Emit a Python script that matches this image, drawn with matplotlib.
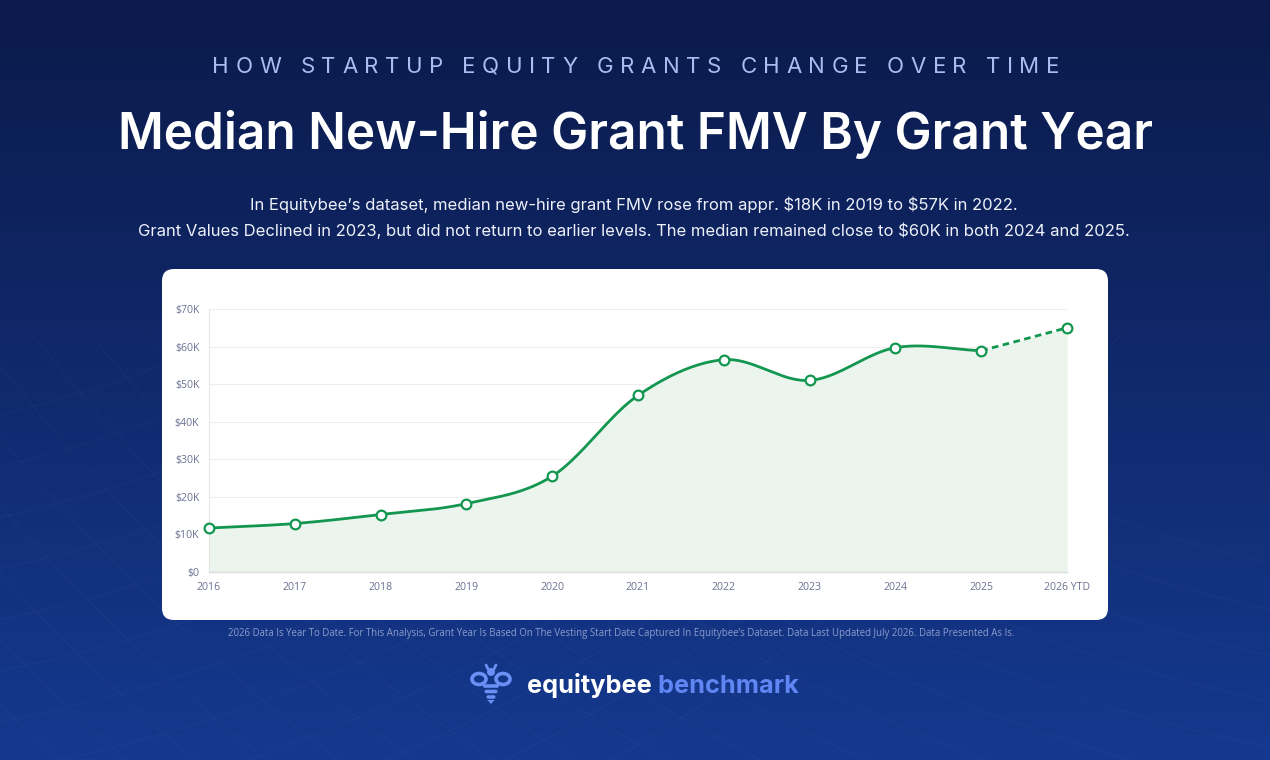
import numpy as np
import matplotlib
matplotlib.use('Agg')
import matplotlib.pyplot as plt
from matplotlib.patches import FancyBboxPatch, Ellipse, Polygon, Circle
from matplotlib.font_manager import FontProperties
from matplotlib.colors import to_rgb

# data (median new-hire grant FMV, $K)
years = ['2016', '2017', '2018', '2019', '2020', '2021', '2022', '2023', '2024', '2025', '2026 YTD']
median_fmv_k = [11.7, 12.9, 15.3, 18.2, 25.5, 47.0, 56.5, 51.0, 59.7, 58.9, 65.0]
n_solid = 10  # last point (2026 YTD) is drawn dashed
y_ticks = [0, 10, 20, 30, 40, 50, 60, 70]

header = 'HOW STARTUP EQUITY GRANTS CHANGE OVER TIME'
title = 'Median New-Hire Grant FMV By Grant Year'
sub1 = 'In Equitybee\u2019s dataset, median new-hire grant FMV rose from appr. $18K in 2019 to $57K in 2022.'
sub2 = ('Grant Values Declined in 2023, but did not return to earlier levels. '
        'The median remained close to $60K in both 2024 and 2025.')
footnote = ('2026 Data Is Year To Date. For This Analysis, Grant Year Is Based On The Vesting Start Date '
            'Captured In Equitybee\u2019s Dataset. Data Last Updated July 2026. Data Presented As Is.')

GREEN = '#13964f'
FILL = '#ebf5ee'
TICK = '#6c7293'
BEE = '#6a8ff5'
HEAD_FONT = 'Inter'
CHART_FONT = 'Open Sans'

W, H = 1270, 760
fig = plt.figure(figsize=(12.7, 7.6), dpi=100)
renderer = fig.canvas.get_renderer()

bg = fig.add_axes([0, 0, 1, 1])
bg.set_xlim(0, W)
bg.set_ylim(H, 0)
bg.axis('off')

# background gradient
top, bot = np.array(to_rgb('#0b1a4a')), np.array(to_rgb('#15398f'))
t = np.linspace(0, 1, 300)[:, None, None]
grad = top * (1 - t) + bot * t
bg.imshow(grad, extent=(0, W, H, 0), aspect='auto', zorder=0)

# faint swoosh lines, lower part only
th = np.linspace(0, 2 * np.pi, 900)
for cx, cy, radii in [(1600, -900, np.arange(1500, 2300, 45)), (-300, -850, np.arange(1300, 1900, 50))]:
    for r in radii:
        lx, ly = cx + r * np.cos(th), cy + r * np.sin(th)
        ly = np.where(ly < 330, np.nan, ly)
        bg.plot(lx, ly, color='white', alpha=0.022, lw=1, zorder=1)


def text_width(s, fp):
    return renderer.get_text_width_height_descent(s, fp, ismath=False)[0]


def fit_size(s, family, weight, target):
    fp = FontProperties(family=family, weight=weight, size=20)
    return 20 * target / text_width(s, fp)


def spaced_text(cx, y, s, target, size, **kw):
    fp = FontProperties(family=HEAD_FONT, size=size)
    widths = []
    for c in s:
        if c == ' ':
            widths.append(text_width('a a', fp) - text_width('aa', fp))
        else:
            widths.append(text_width(c, fp))
    track = (target - sum(widths)) / (len(s) - 1)
    x = cx - target / 2
    for c, w in zip(s, widths):
        bg.text(x, y, c, fontproperties=fp, ha='left', va='baseline', **kw)
        x += w + track


spaced_text(636, 73, header, 847, 16, color='#a9bdf1', zorder=3)

fs = fit_size(title, HEAD_FONT, 'semibold', 1034)
bg.text(635, 149, title, family=HEAD_FONT, weight='semibold', size=fs, color='white',
        ha='center', va='baseline', zorder=3)

fs = fit_size(sub2, HEAD_FONT, 'normal', 994)
bg.text(634, 210, sub1, family=HEAD_FONT, size=fs, color='#eef1fa', ha='center', va='baseline',
        parse_math=False, zorder=3)
bg.text(634, 236, sub2, family=HEAD_FONT, size=fs, color='#eef1fa', ha='center', va='baseline',
        parse_math=False, zorder=3)

# white card
card = FancyBboxPatch((162, 269), 946, 351, boxstyle='round,pad=0,rounding_size=12',
                      fc='white', ec='none', zorder=2)
bg.add_patch(card)

fs = fit_size(footnote, CHART_FONT, 'normal', 778)
bg.text(621, 636, footnote, family=CHART_FONT, size=fs, color='#8c9ccc', ha='center', va='baseline', zorder=3)

# logo
logo1, logo2 = 'equitybee', ' benchmark'
fs = fit_size(logo1 + logo2, HEAD_FONT, 'bold', 271)
fp = FontProperties(family=HEAD_FONT, weight='bold', size=fs)
w1 = text_width(logo1, fp)
bg.text(527, 693, logo1, fontproperties=fp, color='white', ha='left', va='baseline', zorder=3)
bg.text(527 + w1, 693, logo2, fontproperties=fp, color='#5f86f2', ha='left', va='baseline', zorder=3)

# bee icon
bg.add_patch(Ellipse((479, 679), 14, 11, fc='none', ec=BEE, lw=2.6, zorder=3))
bg.add_patch(Ellipse((503, 679), 14, 11, fc='none', ec=BEE, lw=2.6, zorder=3))
bg.add_patch(Circle((491, 672), 4, fc=BEE, ec='none', zorder=3))
bg.plot([488, 486], [669, 665], color=BEE, lw=2, solid_capstyle='round', zorder=3)
bg.plot([494, 496], [669, 665], color=BEE, lw=2, solid_capstyle='round', zorder=3)
for yy, ww in [(686, 16), (691.5, 13), (697, 9)]:
    bg.add_patch(FancyBboxPatch((491 - ww / 2, yy - 1.8), ww, 3.6,
                                boxstyle='round,pad=0,rounding_size=1.8', fc=BEE, ec='none', zorder=3))
bg.add_patch(Polygon([[487.5, 700], [494.5, 700], [491, 704]], closed=True, fc=BEE, ec='none', zorder=3))

# chart
ax = fig.add_axes([209 / W, (H - 572) / H, (1067 - 209) / W, (572 - 309) / H])
ax.set_facecolor('none')
x = np.arange(len(years), dtype=float)
y = np.array(median_fmv_k)


def catmull_rom(xs, ys, n=40):
    m = np.zeros(len(ys))
    m[1:-1] = (ys[2:] - ys[:-2]) / 2
    m[0] = ys[1] - ys[0]
    m[-1] = ys[-1] - ys[-2]
    px, py = [], []
    for i in range(len(xs) - 1):
        s = np.linspace(0, 1, n)
        h00 = 2 * s**3 - 3 * s**2 + 1
        h10 = s**3 - 2 * s**2 + s
        h01 = -2 * s**3 + 3 * s**2
        h11 = s**3 - s**2
        px.append(xs[i] + s * (xs[i + 1] - xs[i]))
        py.append(h00 * ys[i] + h10 * m[i] + h01 * ys[i + 1] + h11 * m[i + 1])
    return np.concatenate(px), np.concatenate(py)


sx, sy = catmull_rom(x[:n_solid], y[:n_solid])
fx = np.concatenate([sx, x[n_solid - 1:]])
fy = np.concatenate([sy, y[n_solid - 1:]])
ax.fill_between(fx, fy, 0, color=FILL, lw=0, zorder=1)
ax.plot(sx, sy, color=GREEN, lw=2, zorder=3, solid_capstyle='round')
ax.plot(x[n_solid - 1:], y[n_solid - 1:], color=GREEN, lw=2, ls=(0, (2.4, 1.6)), zorder=3)
ax.plot(x, y, 'o', ms=7, mfc='white', mec=GREEN, mew=1.6, zorder=5, clip_on=False)

ax.set_xlim(0, len(years) - 1)
ax.set_ylim(0, 70)
ax.set_xticks(x)
ax.set_xticklabels(years)
ax.set_yticks(y_ticks)
ax.set_yticklabels(['$0' if v == 0 else '$%dK' % v for v in y_ticks])
for lab in ax.get_xticklabels() + ax.get_yticklabels():
    lab.set_family(CHART_FONT)
    lab.set_fontsize(7.6)
    lab.set_color(TICK)
ax.tick_params(length=0)
ax.tick_params(axis='y', pad=7)
ax.tick_params(axis='x', pad=7)
ax.grid(axis='y', color='#eeeeee', lw=0.8, zorder=0)
ax.set_axisbelow(True)
for s in ['top', 'right']:
    ax.spines[s].set_visible(False)
ax.spines['left'].set_color('#e6e6e6')
ax.spines['bottom'].set_color('#dcdcdc')
ax.spines['left'].set_linewidth(0.8)
ax.spines['bottom'].set_linewidth(1)

fig.savefig('out.png', dpi=100)
